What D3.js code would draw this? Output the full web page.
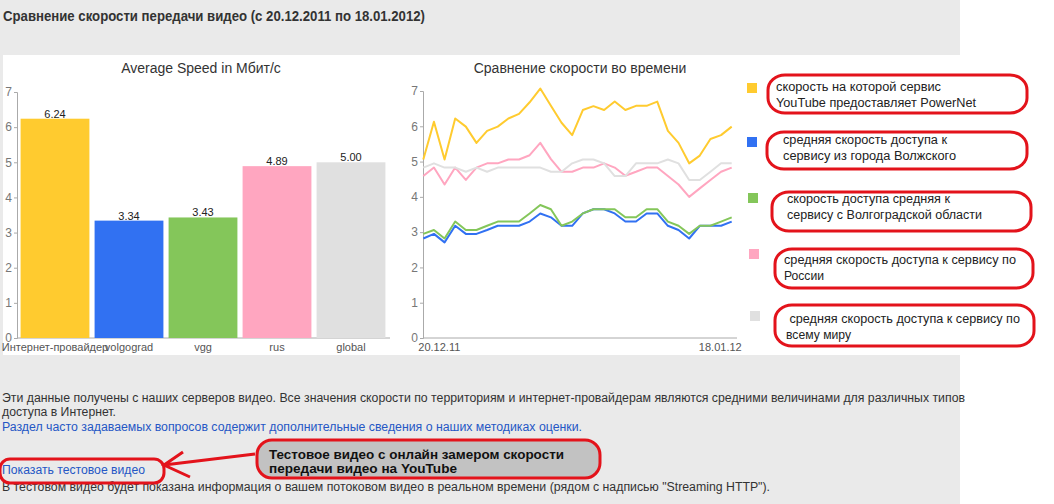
<!DOCTYPE html>
<html>
<head>
<meta charset="utf-8">
<script src="https://cdn.jsdelivr.net/npm/d3@7"></script>
<style>
  body { margin: 0; background: #fff; }
  svg { display: block; font-family: "Liberation Sans", Arial, sans-serif; }
</style>
</head>
<body>
<svg id="page" width="1054" height="504"></svg>
<script>
const barCats = ["Интернет-провайдер", "volgograd", "vgg", "rus", "global"];
const barValues = [6.24, 3.34, 3.43, 4.89, 5.00];
const seriesColors = ["#ffcb2f", "#3171f2", "#84c65a", "#ffa6c0", "#e0e0e0"];
const yTicks = [0, 1, 2, 3, 4, 5, 6, 7];

const dates = ["20.12.11", "21.12.11", "22.12.11", "23.12.11", "24.12.11", "25.12.11",
  "26.12.11", "27.12.11", "28.12.11", "29.12.11", "30.12.11", "31.12.11",
  "01.01.12", "02.01.12", "03.01.12", "04.01.12", "05.01.12", "06.01.12",
  "07.01.12", "08.01.12", "09.01.12", "10.01.12", "11.01.12", "12.01.12",
  "13.01.12", "14.01.12", "15.01.12", "16.01.12", "17.01.12", "18.01.12"];
const ispSpeed = [5.06, 6.13, 5.06, 6.22, 5.99, 5.53, 5.87, 5.99, 6.22, 6.35, 6.68, 7.07, 6.58, 6.10, 5.75,
  6.46, 6.57, 6.46, 6.70, 6.46, 6.58, 6.58, 6.70, 5.87, 5.53, 4.95, 5.17, 5.64, 5.75, 5.99];
const volzhskySpeed = [2.82, 2.95, 2.71, 3.18, 2.95, 2.95, 3.06, 3.18, 3.18, 3.18, 3.30, 3.53, 3.42, 3.18, 3.18,
  3.53, 3.65, 3.65, 3.53, 3.30, 3.30, 3.53, 3.53, 3.18, 3.06, 2.82, 3.18, 3.18, 3.18, 3.30];
const vggSpeed = [2.95, 3.06, 2.82, 3.30, 3.06, 3.06, 3.18, 3.30, 3.30, 3.30, 3.53, 3.77, 3.65, 3.18, 3.30,
  3.53, 3.65, 3.65, 3.65, 3.42, 3.42, 3.65, 3.65, 3.30, 3.18, 2.95, 3.18, 3.18, 3.30, 3.42];
const rusSpeed = [4.59, 4.83, 4.35, 4.83, 4.48, 4.83, 4.95, 4.95, 5.06, 5.06, 5.18, 5.53, 5.07, 4.71, 4.71,
  4.83, 4.83, 4.95, 4.83, 4.60, 4.71, 4.83, 4.83, 4.59, 4.35, 4.00, 4.24, 4.48, 4.71, 4.83];
const globalSpeed = [4.83, 4.95, 4.83, 4.83, 4.71, 4.83, 4.71, 4.83, 4.83, 4.83, 4.83, 4.83, 4.71, 4.71, 4.95,
  5.06, 5.06, 4.95, 4.59, 4.59, 4.95, 4.95, 4.95, 5.06, 4.95, 4.48, 4.48, 4.71, 4.95, 4.95];

const legendLabels = [
  ["скорость на которой сервис", "YouTube предоставляет PowerNet"],
  ["средняя скорость доступа к", "сервису из города Волжского"],
  ["скорость доступа средняя к", "сервису с Волгоградской области"],
  ["средняя скорость доступа к сервису по", "России"],
  [" средняя скорость доступа к сервису по", "всему миру"]
];

const svg = d3.select("#page");
const red = "#e3131b";

// фон страницы
svg.append("rect").attr("x", 0).attr("y", 0).attr("width", 960).attr("height", 504).attr("fill", "#eaeaea");
svg.append("rect").attr("x", 3).attr("y", 55).attr("width", 1051).attr("height", 300).attr("fill", "#fff");

svg.append("text")
  .attr("x", 3).attr("y", 21)
  .attr("font-size", 14).attr("font-weight", "bold").attr("fill", "#333")
  .attr("textLength", 422).attr("lengthAdjust", "spacingAndGlyphs")
  .text("Сравнение скорости передачи видео (с 20.12.2011 по 18.01.2012)");

function styleAxis(g) {
  g.select(".domain").attr("stroke", "#aaa");
  g.selectAll(".tick line").attr("stroke", "#aaa");
  g.selectAll(".tick text").attr("fill", "#777").attr("font-size", 12)
    .attr("font-family", "Liberation Sans, Arial, sans-serif");
}

// ---- столбцы ----
const xBar = d3.scaleBand().domain(barCats).range([18, 388]).paddingInner(0.07).paddingOuter(0.035);
const yBar = d3.scaleLinear().domain([0, 7]).range([338, 92]);

svg.append("text").attr("x", 201).attr("y", 73).attr("text-anchor", "middle")
  .attr("font-size", 14).attr("fill", "#333").text("Average Speed in Мбит/с");

svg.append("g").attr("transform", "translate(17,0)")
  .call(d3.axisLeft(yBar).tickValues(yTicks).tickSize(3).tickPadding(2).tickFormat(d3.format("d")))
  .call(styleAxis);

svg.append("line").attr("x1", 17).attr("x2", 390).attr("y1", yBar(0)).attr("y2", yBar(0)).attr("stroke", "#aaa");

svg.selectAll(".bar").data(barValues).enter().append("rect")
  .attr("class", "bar")
  .attr("x", (d, i) => xBar(barCats[i]))
  .attr("y", (d) => yBar(d))
  .attr("width", xBar.bandwidth())
  .attr("height", (d) => yBar(0) - yBar(d))
  .attr("fill", (d, i) => seriesColors[i]);

svg.selectAll(".barval").data(barValues).enter().append("text")
  .attr("class", "barval")
  .attr("x", (d, i) => xBar(barCats[i]) + xBar.bandwidth() / 2)
  .attr("y", (d) => yBar(d) - 1)
  .attr("text-anchor", "middle").attr("font-size", 11).attr("fill", "#222")
  .text((d) => d.toFixed(2));

svg.selectAll(".barcat").data(barCats).enter().append("text")
  .attr("class", "barcat")
  .attr("x", (d) => xBar(d) + xBar.bandwidth() / 2)
  .attr("y", 351)
  .attr("text-anchor", "middle").attr("font-size", 11).attr("fill", "#555")
  .text((d) => d);

// ---- линии ----
const xLine = d3.scalePoint().domain(dates).range([423.3, 731.7]);
const yLine = d3.scaleLinear().domain([0, 7]).range([338, 91]);

svg.append("text").attr("x", 580).attr("y", 73).attr("text-anchor", "middle")
  .attr("font-size", 14).attr("fill", "#333").text("Сравнение скорости во времени");

svg.append("g").attr("transform", "translate(423,0)")
  .call(d3.axisLeft(yLine).tickValues(yTicks).tickSize(3).tickPadding(2).tickFormat(d3.format("d")))
  .call(styleAxis);

svg.append("line").attr("x1", 423).attr("x2", 737).attr("y1", yLine(0)).attr("y2", yLine(0)).attr("stroke", "#aaa");

const xEnds = [dates[0], dates[dates.length - 1]];
svg.selectAll(".xlab").data(xEnds).enter().append("text")
  .attr("class", "xlab")
  .attr("x", (d, i) => xLine(d) + (i === 0 ? -5 : 10))
  .attr("y", 351)
  .attr("text-anchor", (d, i) => (i === 0 ? "start" : "end"))
  .attr("font-size", 11).attr("fill", "#555")
  .text((d) => d);

const allSeries = [ispSpeed, volzhskySpeed, vggSpeed, rusSpeed, globalSpeed];
const line = d3.line().x((d, i) => xLine(dates[i])).y((d) => yLine(d));

svg.selectAll(".series").data(allSeries).enter().append("path")
  .attr("class", "series")
  .attr("d", line)
  .attr("fill", "none")
  .attr("stroke", (d, i) => seriesColors[i])
  .attr("stroke-width", 2)
  .attr("stroke-linejoin", "round");

// ---- легенда с красными рамками ----
const legendSquares = [[747, 83], [747, 137], [748, 193], [749, 249], [750, 311]];
const legendBoxes = [[768, 75, 259, 38], [767, 132, 260, 37], [772, 192, 259, 39], [775, 249, 258, 39], [775, 305, 259, 41]];
const legendTextPos = [[776, 91, 107], [783, 144, 160], [787, 203, 219], [784, 264, 280], [786, 323, 339]];
const legendWidths = [[165, 200], [164, 173], [163, 195], [232, 40], [234, 65]];

svg.selectAll(".lsq").data(legendSquares).enter().append("rect")
  .attr("class", "lsq")
  .attr("x", (d) => d[0]).attr("y", (d) => d[1])
  .attr("width", 10).attr("height", 10)
  .attr("fill", (d, i) => seriesColors[i]);

svg.selectAll(".lbox").data(legendBoxes).enter().append("rect")
  .attr("class", "lbox")
  .attr("x", (d) => d[0]).attr("y", (d) => d[1])
  .attr("width", (d) => d[2]).attr("height", (d) => d[3])
  .attr("rx", 17).attr("ry", 15)
  .attr("fill", "none").attr("stroke", red).attr("stroke-width", 3);

legendLabels.forEach((lines, i) => {
  lines.forEach((t, j) => {
    svg.append("text")
      .attr("x", legendTextPos[i][0]).attr("y", legendTextPos[i][1 + j])
      .attr("font-size", 12).attr("fill", "#222")
      .attr("xml:space", "preserve")
      .attr("textLength", legendWidths[i][j]).attr("lengthAdjust", "spacingAndGlyphs")
      .text(t);
  });
});

// ---- текст внизу ----
const footer = [
  { t: "Эти данные получены с наших серверов видео. Все значения скорости по территориям и интернет-провайдерам являются средними величинами для различных типов", y: 402, w: 963, c: "#333" },
  { t: "доступа в Интернет.", y: 416, w: 114, c: "#333" },
  { t: "Раздел часто задаваемых вопросов содержит дополнительные сведения о наших методиках оценки.", y: 431, w: 580, c: "#2557c5" },
  { t: "Показать тестовое видео", y: 474, w: 143, c: "#2557c5" },
  { t: "В тестовом видео будет показана информация о вашем потоковом видео в реальном времени (рядом с надписью \"Streaming HTTP\").", y: 491, w: 768, c: "#333" }
];
svg.selectAll(".foot").data(footer).enter().append("text")
  .attr("class", "foot")
  .attr("x", 2).attr("y", (d) => d.y)
  .attr("font-size", 12).attr("fill", (d) => d.c)
  .attr("textLength", (d) => d.w).attr("lengthAdjust", "spacingAndGlyphs")
  .text((d) => d.t);

// рамка вокруг ссылки и стрелка
svg.append("rect").attr("x", 0).attr("y", 459).attr("width", 164).attr("height", 24)
  .attr("rx", 10).attr("fill", "none").attr("stroke", red).attr("stroke-width", 3);
svg.append("path").attr("d", "M255,454 L164,465 M183,452 L164,465 L190,477")
  .attr("fill", "none").attr("stroke", red).attr("stroke-width", 3);

svg.append("rect").attr("x", 257).attr("y", 440).attr("width", 343).attr("height", 38)
  .attr("rx", 15).attr("fill", "#c2c2c2").attr("stroke", red).attr("stroke-width", 3);
const calloutLines = ["Тестовое видео с онлайн замером скорости", "передачи видео на YouTube"];
const calloutWidths = [295, 188];
svg.selectAll(".callout").data(calloutLines).enter().append("text")
  .attr("class", "callout")
  .attr("x", 269).attr("y", (d, i) => 459 + i * 14)
  .attr("font-size", 13).attr("font-weight", "bold").attr("fill", "#111")
  .attr("textLength", (d, i) => calloutWidths[i]).attr("lengthAdjust", "spacingAndGlyphs")
  .text((d) => d);
</script>
</body>
</html>
